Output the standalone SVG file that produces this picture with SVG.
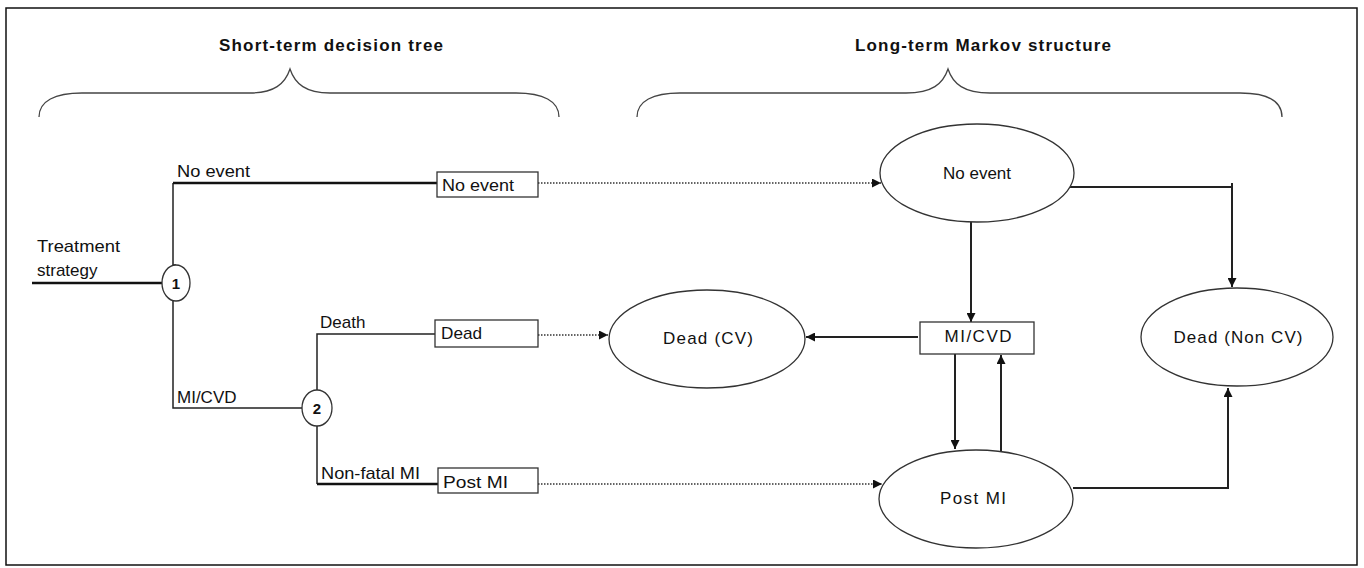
<svg xmlns="http://www.w3.org/2000/svg" width="1364" height="568" viewBox="0 0 1364 568">
<defs>
<style>
.t{font-family:"Liberation Sans",Arial,sans-serif;font-size:17px;fill:#111}
.tb{font-family:"Liberation Sans",Arial,sans-serif;font-size:17px;font-weight:bold;fill:#111}
.n{font-family:"Liberation Sans",Arial,sans-serif;font-size:15px;font-weight:bold;fill:#111}
.node{fill:#fff;stroke:#333;stroke-width:1.3}
.br{fill:none;stroke:#444;stroke-width:1.3}
.ln{fill:none;stroke:#222;stroke-width:1.5}
.thk{fill:none;stroke:#111;stroke-width:2.6}
.dot{fill:none;stroke:#333;stroke-width:1.5;stroke-dasharray:1.5 1.5}
.arr{fill:none;stroke:#222;stroke-width:2}
</style>
<marker id="ah" viewBox="0 0 10 10" refX="10" refY="5" markerWidth="9" markerHeight="9" markerUnits="userSpaceOnUse" orient="auto">
<path d="M0,0 L10,5 L0,10 z" fill="#111"/>
</marker>
</defs>
<rect x="6" y="8" width="1351" height="557" fill="#fff" stroke="#111" stroke-width="1.5"/>

<g id="headers">
<text class="tb" x="219" y="51" textLength="224" lengthAdjust="spacing">Short-term  decision tree</text>
<path class="br" d="M39,117 C39,101 55,93 82,93 L250,93 C274,93 285,84 290,69 C295,84 306,93 330,93 L516,93 C543,93 559,101 559,117"/>
<text class="tb" x="855" y="51" textLength="256" lengthAdjust="spacing">Long-term  Markov structure</text>
<path class="br" d="M637,117 C637,101 653,93 680,93 L906,93 C932,93 943,84 948,69 C953,84 964,93 990,93 L1240,93 C1267,93 1282,101 1282,117"/>
</g>

<g id="connectors">
<line class="thk" x1="32" y1="283" x2="162" y2="283" stroke-width="3"/>
<polyline class="ln" points="176,265 173,265 173,183"/>
<line class="thk" x1="173" y1="183" x2="437" y2="183"/>
<polyline class="ln" points="173,301 173,408 302,408"/>
<polyline class="ln" points="317,390 317,334 435,334"/>
<line class="ln" x1="317" y1="426" x2="317" y2="484"/>
<line class="thk" x1="317" y1="484" x2="438" y2="484"/>
<line class="dot" x1="538" y1="183" x2="881" y2="183" marker-end="url(#ah)"/>
<line class="dot" x1="538" y1="335" x2="608" y2="335" marker-end="url(#ah)"/>
<line class="dot" x1="538" y1="484" x2="882" y2="484" marker-end="url(#ah)"/>
<line class="arr" x1="971" y1="222" x2="971" y2="322" marker-end="url(#ah)"/>
<line class="arr" x1="918" y1="337" x2="806" y2="337" marker-end="url(#ah)"/>
<line class="arr" x1="955" y1="354" x2="955" y2="449" marker-end="url(#ah)"/>
<line class="arr" x1="1001" y1="452" x2="1001" y2="355" marker-end="url(#ah)"/>
<polyline class="arr" points="1070,187 1232,187 1232,287" marker-end="url(#ah)"/>
<line class="arr" x1="1232" y1="183" x2="1232" y2="188"/>
<polyline class="arr" points="1073,488 1228,488 1228,388" marker-end="url(#ah)"/>
</g>

<g id="tree-labels">
<text class="t" x="37" y="252" textLength="83" lengthAdjust="spacingAndGlyphs">Treatment</text>
<text class="t" x="37" y="276">strategy</text>
<text class="t" x="177" y="177" textLength="73" lengthAdjust="spacingAndGlyphs">No event</text>
<text class="t" x="177" y="403">MI/CVD</text>
<text class="t" x="320" y="328">Death</text>
<text class="t" x="321" y="479" textLength="99" lengthAdjust="spacingAndGlyphs">Non-fatal MI</text>
</g>

<g id="chance-1">
<ellipse class="node" cx="176" cy="283" rx="14" ry="18"/>
<text class="n" x="176" y="289" text-anchor="middle">1</text>
</g>
<g id="chance-2">
<ellipse class="node" cx="317" cy="408" rx="15" ry="18"/>
<text class="n" x="317" y="414" text-anchor="middle">2</text>
</g>

<g id="box-no-event">
<rect class="node" x="437" y="172" width="101" height="25"/>
<text class="t" x="442" y="191" textLength="72" lengthAdjust="spacingAndGlyphs">No event</text>
</g>
<g id="box-dead">
<rect class="node" x="435" y="320" width="103" height="27"/>
<text class="t" x="441" y="339" textLength="41" lengthAdjust="spacingAndGlyphs">Dead</text>
</g>
<g id="box-post-mi">
<rect class="node" x="438" y="468" width="100" height="25"/>
<text class="t" x="443" y="488" textLength="65" lengthAdjust="spacingAndGlyphs">Post MI</text>
</g>

<g id="state-no-event">
<ellipse class="node" cx="977" cy="173" rx="97" ry="49"/>
<text class="t" x="977" y="179" text-anchor="middle">No event</text>
</g>
<g id="state-dead-cv">
<ellipse class="node" cx="707" cy="339" rx="98" ry="49"/>
<text class="t" x="708" y="344" text-anchor="middle" textLength="90" lengthAdjust="spacing">Dead (CV)</text>
</g>
<g id="state-mi-cvd">
<rect class="node" x="920" y="322" width="114" height="32"/>
<text class="t" x="978" y="342" text-anchor="middle" textLength="67" lengthAdjust="spacing">MI/CVD</text>
</g>
<g id="state-post-mi">
<ellipse class="node" cx="976" cy="499" rx="97" ry="49"/>
<text class="t" x="973" y="504" text-anchor="middle" textLength="66" lengthAdjust="spacing">Post MI</text>
</g>
<g id="state-dead-noncv">
<ellipse class="node" cx="1237" cy="337" rx="96" ry="49"/>
<text class="t" x="1238" y="343" text-anchor="middle" textLength="129" lengthAdjust="spacing">Dead (Non CV)</text>
</g>
</svg>
